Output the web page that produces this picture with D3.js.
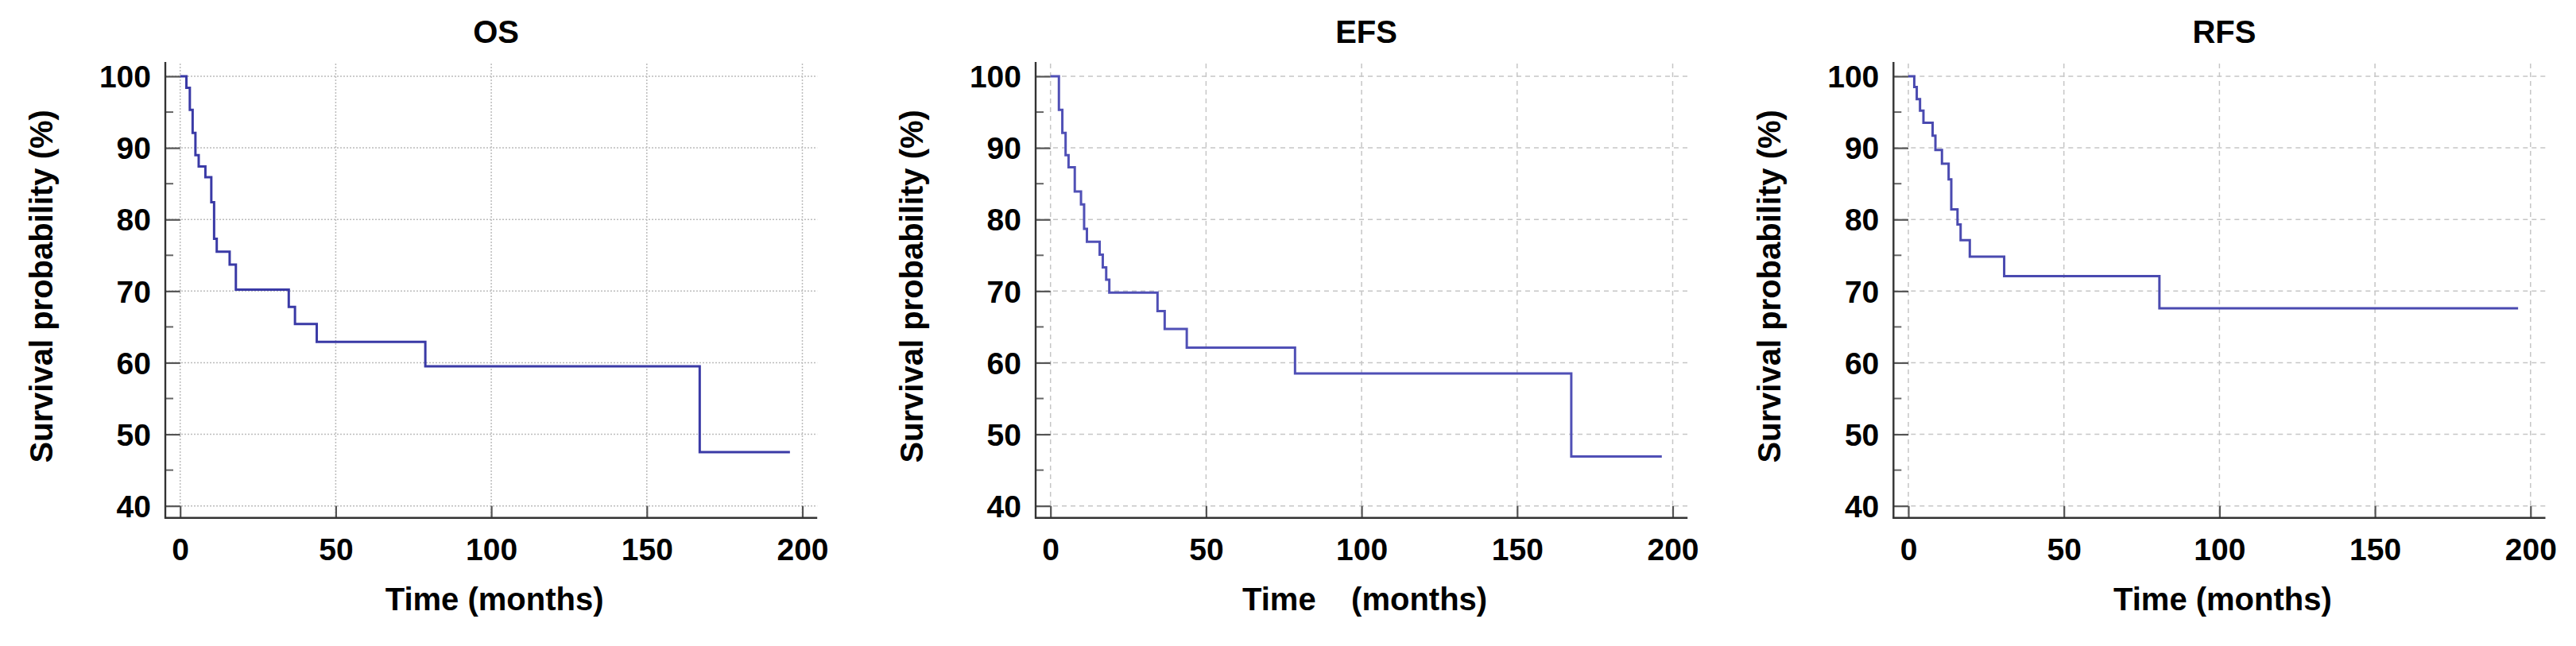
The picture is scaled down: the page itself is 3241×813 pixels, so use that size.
<!DOCTYPE html>
<html>
<head>
<meta charset="utf-8">
<script src="https://cdn.jsdelivr.net/npm/d3@7"></script>
<style>
  html, body { margin: 0; padding: 0; background: #ffffff; }
  svg { display: block; }
  text { font-family: "Liberation Sans", Arial, sans-serif; font-weight: bold; fill: #000; }
</style>
</head>
<body>
<svg id="chart" width="3241" height="813"></svg>
<script>
// ---------------- data ----------------
const panelTitles = ["OS", "EFS", "RFS"];

const osTime  = [0, 2.0, 3.1, 4.0, 4.9, 5.95, 8.1, 10.0, 10.9, 11.75, 15.9, 17.9, 34.9, 36.9, 43.9, 78.8, 167.0, 196.0];
const osSurv  = [100, 98.4, 95.3, 92.1, 89.0, 87.4, 85.9, 82.4, 77.3, 75.5, 73.7, 70.2, 67.8, 65.4, 62.9, 59.5, 47.5, 47.5];

const efsTime = [0, 2.7, 3.8, 4.85, 5.8, 7.8, 9.8, 10.8, 11.7, 15.8, 16.8, 17.9, 18.9, 34.4, 36.7, 43.8, 78.6, 167.4, 196.5];
const efsSurv = [100, 95.3, 92.1, 89.0, 87.3, 83.9, 82.1, 78.7, 76.9, 75.1, 73.3, 71.6, 69.8, 67.2, 64.7, 62.1, 58.5, 46.9, 46.9];

const rfsTime = [0, 1.9, 2.7, 3.75, 4.85, 7.8, 8.7, 10.8, 12.95, 13.8, 15.8, 16.8, 19.75, 30.8, 80.7, 196.0];
const rfsSurv = [100, 98.5, 96.8, 95.2, 93.5, 91.7, 89.7, 87.8, 85.6, 81.4, 79.3, 77.1, 74.8, 72.1, 67.6, 67.6];

const xTicks = [0, 50, 100, 150, 200];
const yTicks = [40, 50, 60, 70, 80, 90, 100];
const yMinorTicks = [45, 55, 65, 75, 85, 95];
const xAxisLabels = ["Time (months)", "Time    (months)", "Time (months)"];
const yAxisLabel = "Survival probability (%)";

// ---------------- layout / style ----------------
const panelX0 = [226.7, 1321.7, 2401];
const plotW = 782.8;
const yTopPx = 96, yBotPx = 636.7;
const pad = 18.7;           // frame padding around data range
const bottomAxisY = 651.7;
const topFrameY = 78;
const lineColors = ["#3a3aa6", "#5050b6", "#4a4ab0"];
const gridDash = ["2,2", "6,5", "6,5"];
const gridColor = ["#bcbcbc", "#c6c6c6", "#c6c6c6"];

const svg = d3.select("#chart");

const series = [
  osTime.map((t, i) => ({t, s: osSurv[i]})),
  efsTime.map((t, i) => ({t, s: efsSurv[i]})),
  rfsTime.map((t, i) => ({t, s: rfsSurv[i]}))
];

panelTitles.forEach((title, p) => {
  const x0 = panelX0[p];
  const x = d3.scaleLinear().domain([0, 200]).range([x0, x0 + plotW]);
  const y = d3.scaleLinear().domain([40, 100]).range([yBotPx, yTopPx]);
  const axisX = x0 - pad;
  const rightX = x0 + plotW + pad;
  const g = svg.append("g");

  // gridlines
  g.append("g").selectAll("line.vg").data(xTicks).join("line")
    .attr("x1", d => x(d)).attr("x2", d => x(d))
    .attr("y1", topFrameY + 2).attr("y2", bottomAxisY)
    .attr("stroke", gridColor[p]).attr("stroke-width", 1.5)
    .attr("stroke-dasharray", gridDash[p]);
  g.append("g").selectAll("line.hg").data(yTicks).join("line")
    .attr("x1", axisX).attr("x2", rightX)
    .attr("y1", d => y(d)).attr("y2", d => y(d))
    .attr("stroke", gridColor[p]).attr("stroke-width", 1.5)
    .attr("stroke-dasharray", gridDash[p]);

  // y axis (inward ticks)
  const yAxis = d3.axisLeft(y).tickValues(yTicks).tickSizeInner(-pad).tickSizeOuter(0).tickPadding(18);
  const ya = g.append("g").attr("transform", `translate(${axisX},0)`).call(yAxis);
  ya.select(".domain").remove();
  ya.selectAll(".tick line").attr("stroke", "#555").attr("stroke-width", 2.2);
  ya.selectAll(".tick text").attr("font-size", 39).attr("font-family", null).attr("dy", "0.35em");

  // minor y ticks
  g.append("g").selectAll("line").data(yMinorTicks).join("line")
    .attr("x1", axisX).attr("x2", axisX + 10)
    .attr("y1", d => y(d)).attr("y2", d => y(d))
    .attr("stroke", "#666").attr("stroke-width", 2);

  // x axis (inward ticks)
  const xAxis = d3.axisBottom(x).tickValues(xTicks).tickSizeInner(-(bottomAxisY - yBotPx)).tickSizeOuter(0).tickPadding(25.6);
  const xa = g.append("g").attr("transform", `translate(0,${bottomAxisY})`).call(xAxis);
  xa.select(".domain").remove();
  xa.selectAll(".tick line").attr("stroke", "#555").attr("stroke-width", 2.2);
  xa.selectAll(".tick text").attr("font-size", 39).attr("font-family", null);

  // axis lines
  g.append("line").attr("x1", axisX).attr("x2", axisX).attr("y1", topFrameY).attr("y2", bottomAxisY + 1)
    .attr("stroke", "#333").attr("stroke-width", 2.4);
  g.append("line").attr("x1", axisX - 1).attr("x2", rightX).attr("y1", bottomAxisY).attr("y2", bottomAxisY)
    .attr("stroke", "#333").attr("stroke-width", 2.4);

  // KM curve
  const line = d3.line().x(d => x(d.t)).y(d => y(d.s)).curve(d3.curveStepAfter);
  g.append("path").datum(series[p]).attr("d", line)
    .attr("fill", "none").attr("stroke", lineColors[p]).attr("stroke-width", 3);

  const cx = (x0 + x0 + plotW) / 2;
  // title
  g.append("text").attr("x", cx + 6).attr("y", 54).attr("text-anchor", "middle")
    .attr("font-size", 40).text(title);
  // x label
  g.append("text").attr("x", cx + 4).attr("y", 768).attr("text-anchor", "middle")
    .attr("font-size", 40).style("white-space", "pre").attr("xml:space", "preserve")
    .text(xAxisLabels[p]);
  // y label
  const ly = (yTopPx + yBotPx) / 2 - 6;
  const lx = axisX - 142;
  g.append("text").attr("transform", `translate(${lx},${ly}) rotate(-90)`)
    .attr("text-anchor", "middle").attr("font-size", 40).text(yAxisLabel);
});
</script>
</body>
</html>
